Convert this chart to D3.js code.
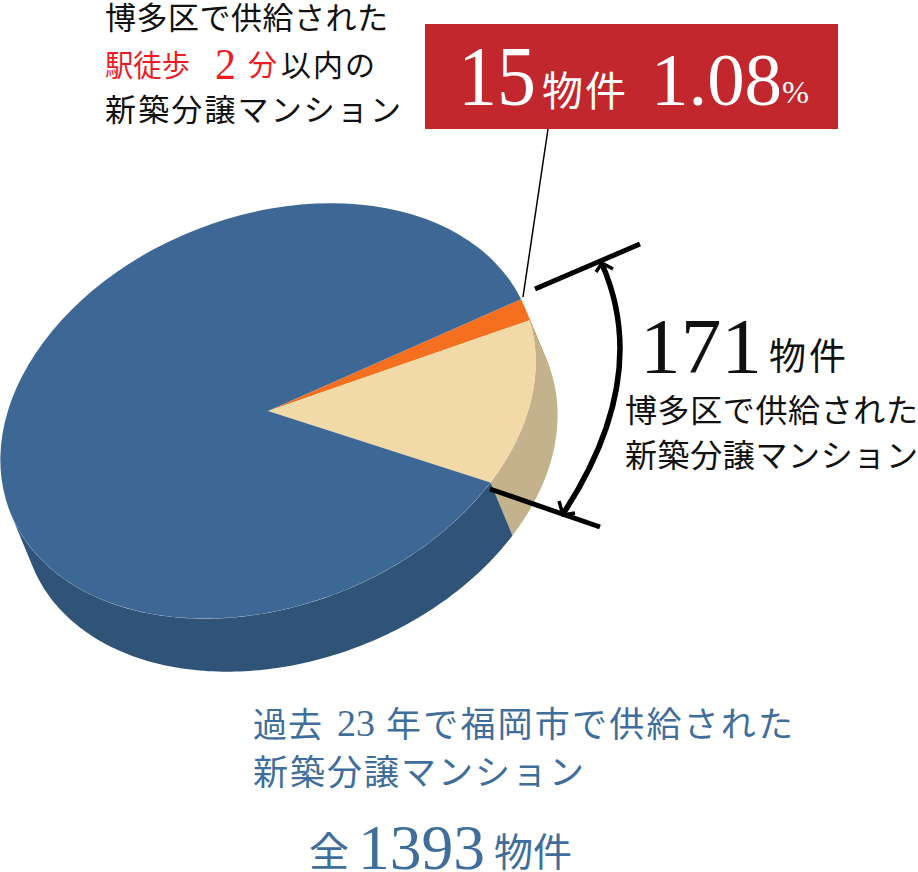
<!DOCTYPE html>
<html lang="ja"><head><meta charset="utf-8">
<script src="https://cdn.jsdelivr.net/npm/d3@7"></script>
<style>html,body{margin:0;padding:0;background:#fff}svg{display:block}</style>
</head><body><svg id="c" width="918" height="872"></svg>
<script>
// Slices (drawn shares, in property units of the 1393 whole)
const sliceNames  = ["駅徒歩2分以内", "博多区", "福岡市その他"];
const sliceValues = [26, 178, 1189];
const topColors   = ["#f5701e", "#f2d9a8", "#3d6895"];
const wallColors  = ["#c9601a", "#c4b28d", "#305478"];

const R = "Liberation Serif, DejaVu Serif, serif";
const J = "'Noto Sans CJK JP', sans-serif";
const blue = "#3f6e9c", ink = "#111", red = "#ed1c24", white = "#fff";

// Tilted-disc geometry
const cx = 268, cy = 411, rx = 277, ry = 195, tilt = -21.3, dx = 22, dy = 53;
const rad = Math.PI / 180, ct = Math.cos(tilt * rad), st = Math.sin(tilt * rad);
const startDeg = 86.4;                     // d3 angle where the first slice begins
const vis = [89.1 * rad, 269.1 * rad];     // d3 angle span where the wall can be seen

const svg = d3.select("#c");
const pie = d3.pie().sort(null).value(d => d)
  .startAngle(startDeg * rad).endAngle((startDeg + 360) * rad);
const arcs = pie(sliceValues);

const pt = (a, ox = 0, oy = 0) => {
  const u = rx * Math.sin(a), v = -ry * Math.cos(a);
  return [cx + u * ct - v * st + ox, cy + u * st + v * ct + oy];
};
const line = d3.line();

// walls: clip each slice's span to the visible half and sweep it along the extrusion
arcs.forEach((d, i) => {
  const a0 = Math.max(d.startAngle, vis[0]), a1 = Math.min(d.endAngle, vis[1]);
  if (a1 <= a0) return;
  const n = Math.max(4, Math.ceil((a1 - a0) / rad));
  const s = d3.range(n + 1).map(k => a0 + (a1 - a0) * k / n);
  const pts = s.map(a => pt(a)).concat(s.slice().reverse().map(a => pt(a, dx, dy)));
  svg.append("path").attr("d", line(pts) + "Z").attr("fill", wallColors[i]);
});

// top face: d3.arc on a unit disc, squashed and tilted
const arc = d3.arc().innerRadius(0).outerRadius(1);
svg.append("g").attr("transform", `translate(${cx},${cy}) rotate(${tilt}) scale(${rx},${ry})`)
  .selectAll("path").data(arcs).join("path")
  .attr("d", arc).attr("fill", (d, i) => topColors[i]);

// leader and bracket
const strokeLine = (x1, y1, x2, y2, w) => svg.append("line")
  .attr("x1", x1).attr("y1", y1).attr("x2", x2).attr("y2", y2)
  .attr("stroke", "#000").attr("stroke-width", w);
strokeLine(548, 129, 523, 297, 1.5);
strokeLine(535, 289, 640, 244, 5);
strokeLine(490, 489, 600, 527, 5);
const p = d3.path();
p.moveTo(602, 264); p.quadraticCurveTo(652, 378, 563, 514);
svg.append("path").attr("d", p.toString()).attr("fill", "none").attr("stroke", "#000").attr("stroke-width", 5.5);
svg.append("path").attr("d", "M596,272L602,263L613,269M559,501L563,515L575,513")
  .attr("fill", "none").attr("stroke", "#000").attr("stroke-width", 3.5);

// box
svg.append("rect").attr("x", 425).attr("y", 24).attr("width", 413).attr("height", 105).attr("fill", "#c1272d");

// text
function t(x, y, s, size, fam, fill, w, squeeze) {
  const e = svg.append("text").attr("x", x).attr("y", y).text(s)
    .attr("font-size", size).attr("font-family", fam).attr("fill", fill);
  if (fam === J) e.attr("font-weight", 400);
  if (w) e.attr("textLength", w).attr("lengthAdjust", squeeze ? "spacingAndGlyphs" : "spacing");
  return e;
}
t(105, 29, "博多区で供給された", 31, J, ink, 283);
t(105, 76, "駅徒歩", 30, J, red, 85, true);
t(215, 79, "2", 44, R, red, 21, true);
t(248, 76, "分", 29, J, red);
t(281, 76, "以内の", 30, J, ink, 94);
t(105, 121, "新築分譲マンション", 31, J, ink, 296);

t(458, 105, "15", 85, R, white, 78, true);
t(542, 106, "物件", 41, J, white, 84);
t(651, 105, "1.08", 74, R, white, 131, true);
t(782, 103, "%", 32, R, white, 27, true);

t(640, 372, "171", 78, R, ink, 122, true);
t(769, 370, "物件", 37, J, ink, 77);
t(625, 422, "博多区で供給された", 32, J, ink, 293);
t(625, 467, "新築分譲マンション", 32, J, ink, 293);

t(253, 737, "過去", 34, J, blue, 69);
t(337, 736, "23", 38, R, blue, 38, true);
t(386, 737, "年で福岡市で供給された", 35, J, blue, 407);
t(253, 785, "新築分譲マンション", 35, J, blue, 331);
t(309, 866, "全", 40, J, blue);
t(358, 869, "1393", 64, R, blue, 127, true);
t(494, 866, "物件", 39, J, blue, 78);
</script></body></html>
